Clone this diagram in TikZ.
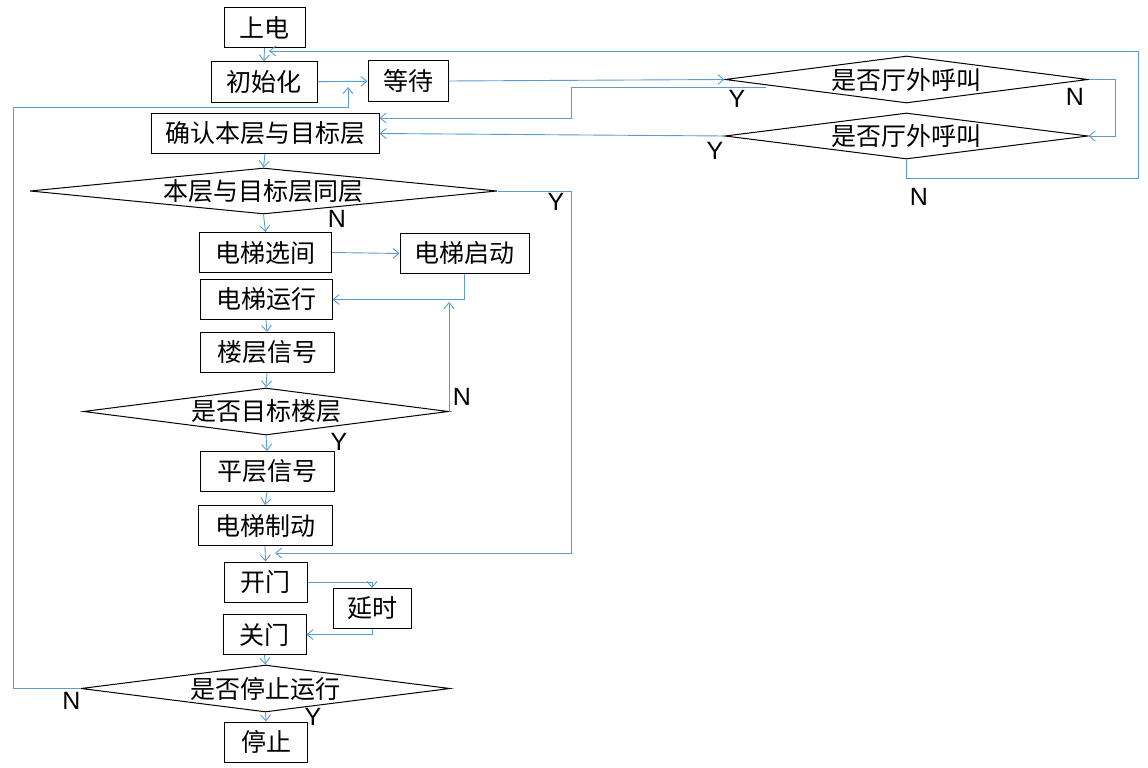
\documentclass[tikz,border=0pt]{standalone}
\usepackage{fontspec}
\setmainfont{Liberation Sans}
\newfontfamily\cjk{Noto Sans CJK SC}
\usetikzlibrary{arrows.meta,shapes.geometric}
\definecolor{link}{RGB}{91,155,213}
\tikzset{
  >={Straight Barb[length=6pt,width=10pt]},
  cn/.style={font=\cjk\fontsize{25}{30}\selectfont},
  box/.style={draw=black,line width=1pt,cn,inner sep=0pt,minimum height=40pt,minimum width=#1},
  box/.default=134pt,
  decision/.style={diamond,draw=black,line width=1pt,inner sep=0pt,minimum height=47pt,
    label={[cn]center:#1}},
  flow/.style={->,draw=link,line width=0.9pt},
  yn/.style={font=\fontsize{25}{28}\selectfont,inner sep=0pt},
}
\begin{document}
\begin{tikzpicture}[x=1pt,y=-1pt]
\useasboundingbox (0,0) rectangle (1148,768);
% main column
\node[box=81pt] (power) at (264.5,27.5) {上电};
\node[box=106pt] (init) at (264,82) {初始化};
\node[box=80pt] (wait) at (408,81) {等待};
\node[box=228pt] (confirm) at (265,133.5) {确认本层与目标层};
\node[decision=本层与目标层同层,minimum width=467pt,minimum height=46pt] (same) at (263.5,191) {};
\node[box=132pt] (select) at (265.5,252.5) {电梯选间};
\node[box=129pt] (start) at (464.5,253.5) {电梯启动};
\node[box=132pt] (run) at (266,299.5) {电梯运行};
\node[box] (floor) at (267,352.5) {楼层信号};
\node[decision=是否目标楼层,minimum width=365pt] (target) at (266,411.5) {};
\node[box] (level) at (267,471.5) {平层信号};
\node[box] (brake) at (265,525.5) {电梯制动};
\node[box=83pt] (open) at (265.5,582) {开门};
\node[box=78pt] (delay) at (372,608.5) {延时};
\node[box=83pt] (close) at (264.5,634.5) {关门};
\node[decision=是否停止运行,minimum width=369pt] (halt) at (265.5,688.5) {};
\node[box=83pt] (stop) at (266,742) {停止};
% hall calls
\node[decision=是否厅外呼叫,minimum width=363pt] (callA) at (906.5,79.5) {};
\node[decision=是否厅外呼叫,minimum width=363pt,minimum height=46pt] (callB) at (906.5,136) {};

% free ends of the connectors
\coordinate (toinit) at (269,51);
\coordinate (towait) at (348,87);
\coordinate (toopen) at (275,553);
\coordinate (torun) at (target.east |- 0,302);
\coordinate (fromA) at (766,87);

\draw[flow] (power.south) -- (init.north);
\draw[flow] (init) -- (wait);
\draw[flow] (wait.east) -- (callA.west);
\draw[flow] (fromA) -- (571,87) -- (571,118) -- (confirm.east |- 0,118);
\draw[flow] (callA.east) -- ++(27,0) |- (callB.east);
\draw[flow] (callB.west) -- (confirm.east);
\draw[flow] (callB.south) |- (1138,178) |- (toinit);
\draw[flow] (confirm.south) -- (same.north);
\draw[flow] (same.east) -| (571,553) -- (toopen);
\draw[flow] (same.south) -- (select.north);
\draw[flow] (select.east) -- (start.west);
\draw[flow] (start.south) |- (run.east);
\draw[flow] (run.south) -- (floor.north);
\draw[flow] (floor.south) -- (target.north);
\draw[flow] (target.east) -- (torun);
\draw[flow] (target.south) -- (level.north);
\draw[flow] (level.south) -- (brake.north);
\draw[flow] (brake.south) -- (open.north);
\draw[flow] (open.east) -| (delay.north);
\draw[flow] (delay.south) |- (close.east);
\draw[flow] (close.south) -- (halt.north);
\draw[flow] (halt.west) -| (13,107) -| (towait);
\draw[flow] (halt.south) -- (stop.north);

% Y / N marks
\node[yn] (yA) at (737,99) {Y};
\node[yn] (nA) at (1075,96.5) {N};
\node[yn] (yB) at (715,150.5) {Y};
\node[yn] (nB) at (919,197) {N};
\node[yn] (ysame) at (556,202) {Y};
\node[yn] (nsame) at (337,219) {N};
\node[yn] (ntarget) at (462,397) {N};
\node[yn] (ytarget) at (339,442) {Y};
\node[yn] (nhalt) at (71.5,701) {N};
\node[yn] (yhalt) at (313,717) {Y};
\end{tikzpicture}
\end{document}
